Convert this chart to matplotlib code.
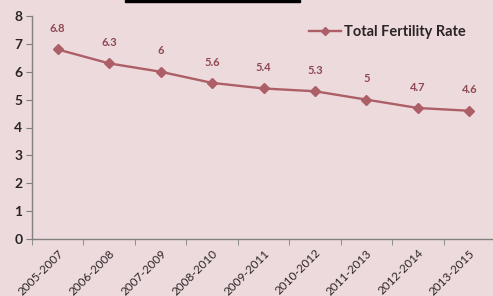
import matplotlib
matplotlib.use("Agg")
import matplotlib.pyplot as plt
from matplotlib.patches import Rectangle

# data
periods = ["2005-2007", "2006-2008", "2007-2009", "2008-2010", "2009-2011",
           "2010-2012", "2011-2013", "2012-2014", "2013-2015"]
tfr = [6.8, 6.3, 6.0, 5.6, 5.4, 5.3, 5.0, 4.7, 4.6]
value_labels = ["6.8", "6.3", "6", "5.6", "5.4", "5.3", "5", "4.7", "4.6"]

bg = "#EDDADC"
line_col = "#AC5F67"
text_col = "#2B2426"

plt.rcParams["font.family"] = ["Lato", "DejaVu Sans"]

fig = plt.figure(figsize=(4.93, 2.96), dpi=100, facecolor=bg)
ax = fig.add_axes([32 / 493, 1 - 239 / 296, 1 - 32 / 493, (239 - 16) / 296])
ax.set_facecolor(bg)

x = list(range(len(periods)))
ax.plot(x, tfr, color=line_col, lw=1.7, marker="D", ms=5.2,
        mec=line_col, mfc=line_col, label="Total Fertility Rate")

for xi, yi, lab in zip(x, tfr, value_labels):
    ax.annotate(lab, (xi, yi), xytext=(0, 15), textcoords="offset points",
                ha="center", va="center", fontsize=8, fontweight="bold",
                color="#8E4852")

ax.set_xlim(-0.5, 8.46)
ax.set_ylim(0, 8)
ax.set_yticks(range(0, 9))
ax.tick_params(axis="y", length=4, color="#808080", labelsize=10,
               labelcolor=text_col, pad=3)
for t in ax.get_yticklabels():
    t.set_fontweight("bold")

ax.set_xticks(x)
ax.set_xticklabels(periods, rotation=45, ha="right", rotation_mode="anchor",
                   fontsize=8.5, color=text_col)
ax.tick_params(axis="x", which="major", length=0, pad=6)
ax.set_xticks([i - 0.5 for i in range(len(periods))], minor=True)
ax.tick_params(axis="x", which="minor", length=4, color="#808080")

for s in ["top", "right"]:
    ax.spines[s].set_visible(False)
for s in ["left", "bottom"]:
    ax.spines[s].set_color("#808080")
    ax.spines[s].set_linewidth(1)

leg = ax.legend(loc="upper right", bbox_to_anchor=(0.97, 1.02), frameon=False,
                handlelength=2.2, prop={"size": 10.5, "weight": "bold"},
                labelcolor=text_col, handletextpad=0.2, markerscale=0.8)

# dark strip at the very top edge of the image
fig.patches.append(Rectangle((125 / 493, 1 - 2 / 296), 175 / 493, 2 / 296,
                             transform=fig.transFigure, color="black"))

fig.savefig("out.png", dpi=100, facecolor=bg)
